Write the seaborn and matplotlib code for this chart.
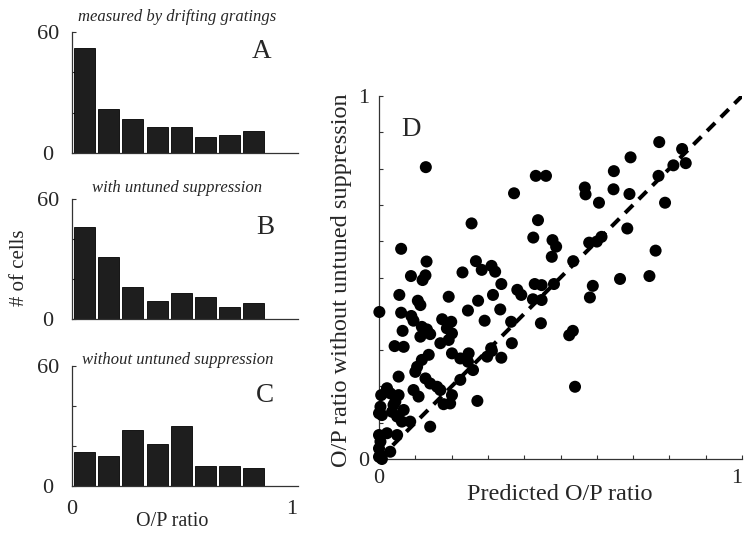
import matplotlib
matplotlib.use("Agg")
import matplotlib.pyplot as plt
import seaborn as sns
import numpy as np

sns.set_theme(style="white")
plt.rcParams["font.family"] = ["Liberation Serif", "DejaVu Serif"]

# ---------------- data ----------------
bin_centers = [0.058, 0.168, 0.278, 0.388, 0.498, 0.608, 0.718, 0.828]
counts_a = [52, 22, 17, 13, 13, 8, 9, 11]
counts_b = [46, 31, 16, 9, 13, 11, 6, 8]
counts_c = [17, 15, 28, 21, 30, 10, 10, 9]
hist_titles = ["measured by drifting gratings", "with untuned suppression",
               "without untuned suppression"]
panel_letters = ["A", "B", "C"]

pred_x = [0.129, 0.061, 0.131, 0.088, 0.128, 0.120, 0.255, 0.230, 0.267, 0.283,
          0.310, 0.320, 0.372, 0.432, 0.460, 0.438, 0.425, 0.478, 0.488, 0.476,
          0.772, 0.693, 0.835, 0.845, 0.811, 0.647, 0.770, 0.567, 0.569, 0.646,
          0.690, 0.606, 0.788, 0.684, 0.579, 0.600, 0.613, 0.535, 0.762, 0.664,
          0.745, 0.482, 0.448, 0.448, 0.589, 0.581, 0.446, 0.534, 0.524, 0.540,
          0.337, 0.381, 0.392, 0.429, 0.314, 0.424, 0.273, 0.245, 0.334, 0.291,
          0.364, 0.366, 0.309, 0.245, 0.259, 0.298, 0.311, 0.337, 0.271, 0.056,
          0.107, 0.114, 0.192, 0.001, 0.061, 0.089, 0.095, 0.174, 0.199, 0.187,
          0.201, 0.065, 0.118, 0.132, 0.114, 0.141, 0.043, 0.068, 0.169, 0.192,
          0.137, 0.118, 0.105, 0.100, 0.201, 0.224, 0.247, 0.054, 0.128, 0.141,
          0.160, 0.169, 0.224, 0.095, 0.109, 0.022, 0.006, 0.031, 0.054, 0.045,
          0.201, 0.178, 0.196, 0.004, 0.000, 0.008, 0.036, 0.050, 0.068, 0.063,
          0.086, 0.141, 0.000, 0.022, 0.050, 0.004, 0.000, 0.031, 0.000, 0.008,
          0.040]
obs_y = [0.804, 0.579, 0.544, 0.504, 0.506, 0.493, 0.649, 0.514, 0.545, 0.521,
         0.532, 0.516, 0.732, 0.780, 0.780, 0.658, 0.610, 0.603, 0.585, 0.557,
         0.873, 0.831, 0.854, 0.815, 0.809, 0.793, 0.780, 0.748, 0.729, 0.743,
         0.730, 0.706, 0.706, 0.635, 0.596, 0.599, 0.612, 0.545, 0.574, 0.496,
         0.504, 0.482, 0.479, 0.438, 0.477, 0.445, 0.374, 0.353, 0.341, 0.199,
         0.482, 0.466, 0.452, 0.482, 0.452, 0.440, 0.436, 0.409, 0.412, 0.381,
         0.378, 0.319, 0.305, 0.268, 0.245, 0.282, 0.298, 0.279, 0.160, 0.452,
         0.436, 0.424, 0.447, 0.405, 0.403, 0.394, 0.381, 0.385, 0.378, 0.360,
         0.346, 0.353, 0.364, 0.357, 0.337, 0.344, 0.311, 0.309, 0.319, 0.328,
         0.287, 0.273, 0.254, 0.240, 0.291, 0.277, 0.291, 0.227, 0.222, 0.208,
         0.199, 0.190, 0.218, 0.190, 0.172, 0.195, 0.176, 0.181, 0.176, 0.158,
         0.176, 0.151, 0.153, 0.144, 0.126, 0.121, 0.130, 0.117, 0.135, 0.103,
         0.103, 0.089, 0.066, 0.071, 0.066, 0.048, 0.029, 0.020, 0.006, 0.000,
         0.149]

# ---------------- figure ----------------
W, H = 745, 536
fig = plt.figure(figsize=(W / 100, H / 100), dpi=100)
fig.patch.set_facecolor("white")

def fx(px):
    return px / W

def fy(py):
    return 1 - py / H

spine_col = "#333333"
hist_boxes = [(71.7, 32.3, 152.7), (71.7, 199.0, 318.7), (71.7, 366.0, 486.0)]
title_pos = [(177.5, 17), (177, 188), (178, 360)]
letter_pos = [(262, 52), (265, 228), (265, 396)]

for i, counts in enumerate([counts_a, counts_b, counts_c]):
    left, top, bottom = hist_boxes[i]
    ax = fig.add_axes([fx(left), fy(bottom), 226 / W, (bottom - top) / H])
    sns.barplot(x=bin_centers, y=counts, native_scale=True, width=0.868,
                color="#1e1e1e", saturation=1, edgecolor="black",
                linewidth=0.6, ax=ax)
    ax.set_xlim(0, 1.027)
    ax.set_ylim(0, 60)
    ax.set_xlabel("")
    ax.set_ylabel("")
    for s in ["top", "right"]:
        ax.spines[s].set_visible(False)
    for s in ["left", "bottom"]:
        ax.spines[s].set_color(spine_col)
        ax.spines[s].set_linewidth(0.9)
    ax.set_yticks([0, 20, 40, 60])
    ax.set_yticklabels(["0", "", "", "60"])
    ax.tick_params(axis="y", direction="in", length=3, width=0.8, pad=17,
                   labelsize=16, left=True, color=spine_col)
    for t in ax.get_yticklabels():
        t.set_ha("center")
    if i == 2:
        ax.set_xticks([0, 1])
        ax.set_xticklabels(["0", "1"])
        ax.tick_params(axis="x", length=0, pad=10, labelsize=16)
    else:
        ax.set_xticks([])
    fig.text(fx(title_pos[i][0]), fy(title_pos[i][1]), hist_titles[i],
             style="italic", fontsize=12, ha="center", va="center")
    fig.text(fx(letter_pos[i][0]), fy(letter_pos[i][1]), panel_letters[i],
             fontsize=19.5, ha="center", va="center")

fig.text(fx(20), fy(268), "# of cells", rotation=90, fontsize=15,
         ha="center", va="center")
fig.text(fx(172), fy(522), "O/P ratio", fontsize=14.5, ha="center", va="center")

# ---------------- scatter D ----------------
axd = fig.add_axes([fx(379), fy(459), 363 / W, 363 / H])
axd.plot([0, 1], [0, 1], color="black", lw=2.9, linestyle=(0, (2.8, 2.0)),
         dash_capstyle="butt", zorder=2)
sns.scatterplot(x=pred_x, y=obs_y, s=75, color="black", edgecolor="none",
                clip_on=False, zorder=3, legend=False, ax=axd)
axd.set_xlim(0, 1)
axd.set_ylim(0, 1)
ticks = np.round(np.arange(0, 1.01, 0.1), 1)
tick_labels = ["0"] + [""] * 9 + ["1"]
axd.set_xticks(ticks)
axd.set_xticklabels(tick_labels)
axd.set_yticks(ticks)
axd.set_yticklabels(tick_labels)
axd.tick_params(axis="both", direction="in", length=3.2, width=0.8,
                labelsize=16, color=spine_col, left=True, bottom=True)
axd.tick_params(axis="y", pad=11)
axd.tick_params(axis="x", pad=7)
for t in axd.get_yticklabels():
    t.set_ha("center")
xlabs = axd.get_xticklabels()
xlabs[-1].set_ha("right")
xlabs[-1].set_x(1.0)
for s in ["top", "right"]:
    axd.spines[s].set_visible(False)
for s in ["left", "bottom"]:
    axd.spines[s].set_color(spine_col)
    axd.spines[s].set_linewidth(0.9)
axd.set_xlabel("")
axd.set_ylabel("")
fig.text(fx(411), fy(129), "D", fontsize=19.5, ha="center", va="center")
fig.text(fx(560), fy(495), "Predicted O/P ratio", fontsize=17.5,
         ha="center", va="center")
fig.text(fx(342), fy(280), "O/P ratio without untuned suppression",
         rotation=90, fontsize=17.5, ha="center", va="center")

fig.savefig("out.png", dpi=100, facecolor="white")
